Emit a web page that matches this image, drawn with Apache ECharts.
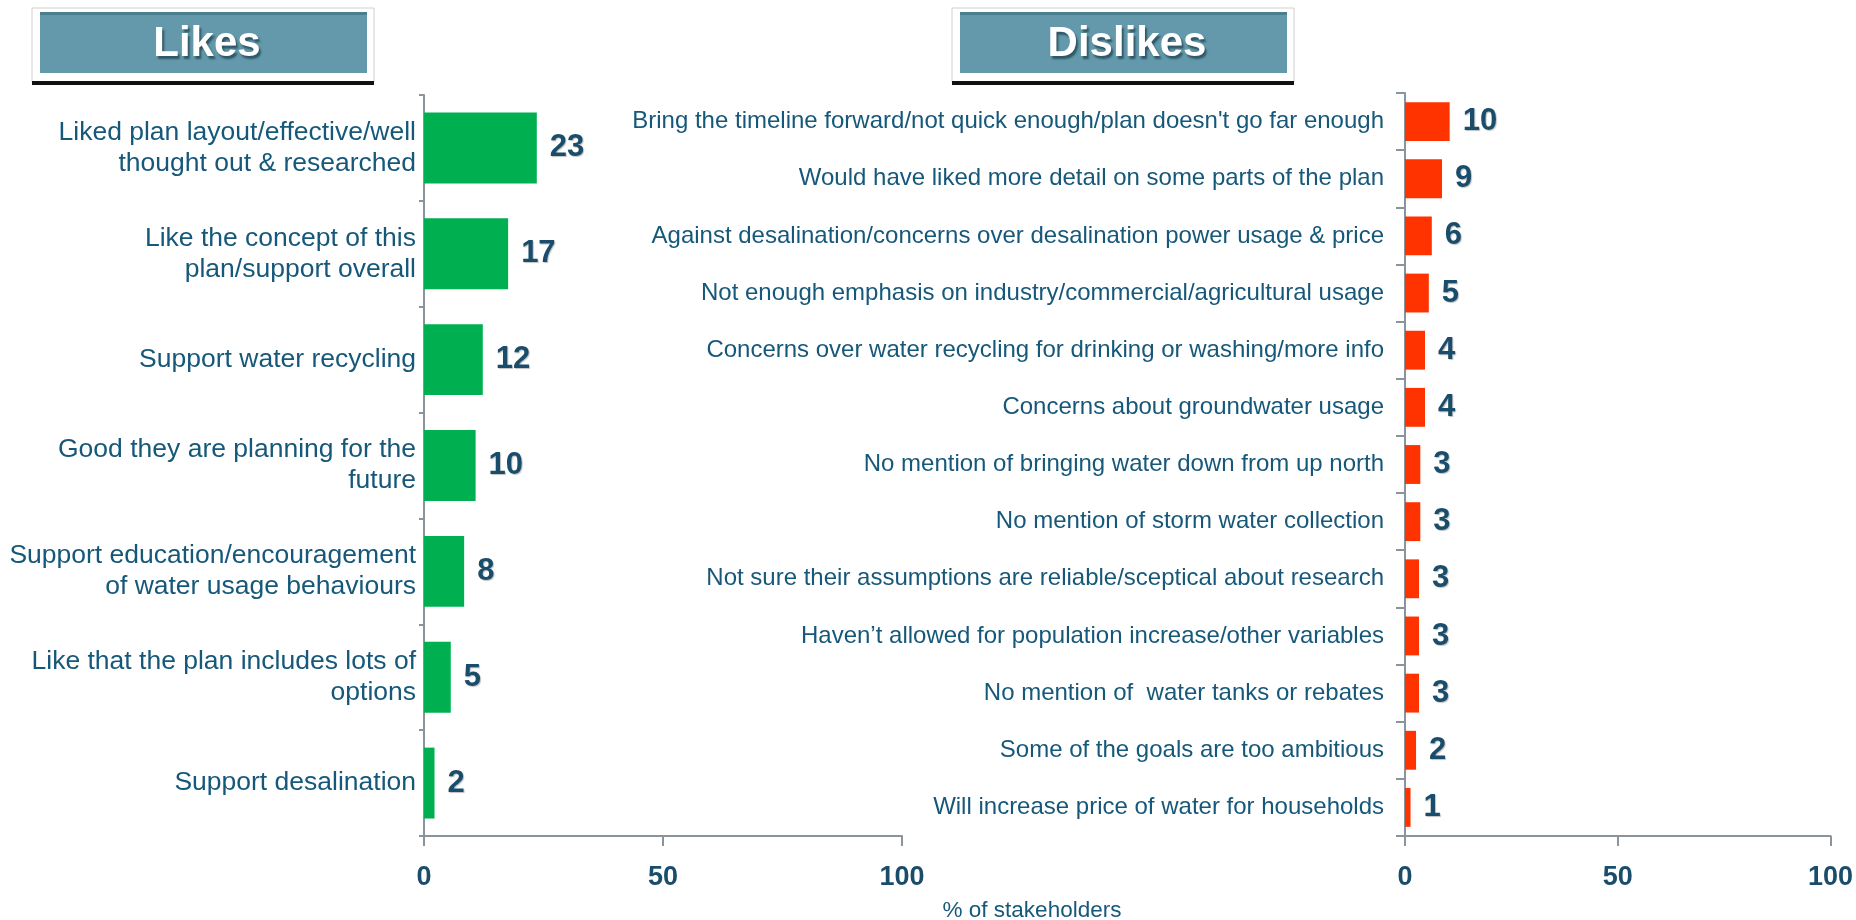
<!DOCTYPE html>
<html>
<head>
<meta charset="utf-8">
<script src="https://cdn.jsdelivr.net/npm/echarts@6/dist/echarts.min.js"></script>
<style>
  html, body { margin: 0; padding: 0; background: #fff; }
  #chart { width: 1856px; height: 920px; }
</style>
</head>
<body>
<div id="chart"></div>
<script>
// likes (top to bottom)
const likeCategories = [
  'Liked plan layout/effective/well\nthought out & researched',
  'Like the concept of this\nplan/support overall',
  'Support water recycling',
  'Good they are planning for the\nfuture',
  'Support education/encouragement\nof water usage behaviours',
  'Like that the plan includes lots of\noptions',
  'Support desalination'
];
const likeValues = [23.6, 17.6, 12.3, 10.8, 8.4, 5.6, 2.2];
const likeLabels = [23, 17, 12, 10, 8, 5, 2];

// dislikes (top to bottom)
const dislikeCategories = [
  "Bring the timeline forward/not quick enough/plan doesn't go far enough",
  'Would have liked more detail on some parts of the plan',
  'Against desalination/concerns over desalination power usage & price',
  'Not enough emphasis on industry/commercial/agricultural usage',
  'Concerns over water recycling for drinking or washing/more info',
  'Concerns about groundwater usage',
  'No mention of bringing water down from up north',
  'No mention of storm water collection',
  'Not sure their assumptions are reliable/sceptical about research',
  'Haven\u2019t allowed for population increase/other variables',
  'No mention of  water tanks or rebates',
  'Some of the goals are too ambitious',
  'Will increase price of water for households'
];
const dislikeValues = [10.5, 8.7, 6.3, 5.6, 4.7, 4.7, 3.6, 3.6, 3.3, 3.3, 3.3, 2.6, 1.3];
const dislikeLabels = [10, 9, 6, 5, 4, 4, 3, 3, 3, 3, 3, 2, 1];

const xTicks = [0, 50, 100];

const axisGray = '#8a949c';
const textTeal = '#16587a';
const numTeal = '#1a4d6b';
const font = 'Liberation Sans, Arial, sans-serif';

const chart = echarts.init(document.getElementById('chart'));

const valueAxis = (gridIndex) => ({
  type: 'value',
  gridIndex: gridIndex,
  min: xTicks[0],
  max: xTicks[xTicks.length - 1],
  interval: xTicks[1] - xTicks[0],
  axisLine: { show: true, lineStyle: { color: axisGray, width: 2 } },
  axisTick: { show: true, length: 10, lineStyle: { color: axisGray, width: 2 } },
  splitLine: { show: false },
  axisLabel: { fontFamily: font, fontSize: 27, fontWeight: 'bold', color: numTeal, margin: 28 }
});

const catAxis = (gridIndex, data, tickLen, margin, fontSize, lh) => ({
  type: 'category',
  gridIndex: gridIndex,
  data: data,
  inverse: true,
  axisLine: { show: true, lineStyle: { color: axisGray, width: 2 } },
  axisTick: { show: true, length: tickLen, lineStyle: { color: axisGray, width: 2 } },
  axisLabel: { fontFamily: font, fontSize: fontSize, lineHeight: lh, color: textTeal, margin: margin, align: 'right' }
});

const barLabel = (labels) => ({
  show: true,
  position: 'right',
  distance: 13,
  fontFamily: font,
  fontSize: 31,
  fontWeight: 'bold',
  color: numTeal,
  textShadowColor: 'rgba(0,0,0,0.25)',
  textShadowOffsetX: 1,
  textShadowOffsetY: 1,
  textShadowBlur: 1,
  formatter: (p) => labels[p.dataIndex]
});

const titleBox = (x, w, text) => ({
  type: 'group',
  children: [
    { type: 'rect', shape: { x: x, y: 8, width: w, height: 74 }, style: { fill: '#fff', stroke: '#d0d0d0', lineWidth: 1 } },
    { type: 'rect', shape: { x: x, y: 81, width: w, height: 4 }, style: { fill: '#111' } },
    { type: 'rect', shape: { x: x + 8, y: 12, width: w - 15, height: 61 }, style: { fill: '#6399aa' } },
    { type: 'rect', shape: { x: x + 8, y: 12, width: w - 15, height: 3 }, style: { fill: '#4a7f90' } },
    { type: 'text', x: x + 4 + w / 2, y: 44, style: {
        text: text, fontFamily: font, fontSize: 42, fontWeight: 'bold', fill: '#fff',
        align: 'center', verticalAlign: 'middle',
        textShadowColor: 'rgba(40,80,95,0.9)', textShadowOffsetX: 2, textShadowOffsetY: 3, textShadowBlur: 2
    } }
  ]
});

const option = {
  animation: false,
  backgroundColor: '#fff',
  grid: [
    { left: 424, right: 954, top: 95, bottom: 84 },
    { left: 1405, right: 23, top: 93, bottom: 84 }
  ],
  xAxis: [valueAxis(0), valueAxis(1)],
  yAxis: [
    catAxis(0, likeCategories, 5, 8, 26.5, 31),
    catAxis(1, dislikeCategories, 9, 21, 24, 28)
  ],
  series: [
    {
      type: 'bar', xAxisIndex: 0, yAxisIndex: 0, data: likeValues,
      barCategoryGap: '33%', itemStyle: { color: '#00b050' }, label: barLabel(likeLabels)
    },
    {
      type: 'bar', xAxisIndex: 1, yAxisIndex: 1, data: dislikeValues,
      barCategoryGap: '32%', itemStyle: { color: '#ff3300' }, label: barLabel(dislikeLabels)
    }
  ],
  graphic: [
    titleBox(32, 342, 'Likes'),
    titleBox(952, 342, 'Dislikes'),
    { type: 'text', x: 1032, y: 911, style: {
        text: '% of stakeholders', fontFamily: font, fontSize: 22.5, fill: textTeal,
        align: 'center', verticalAlign: 'middle'
    } }
  ]
};

chart.setOption(option);
</script>
</body>
</html>
